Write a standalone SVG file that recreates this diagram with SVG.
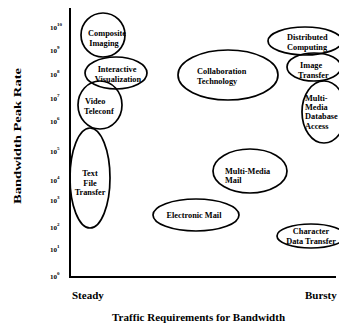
<svg xmlns="http://www.w3.org/2000/svg" width="339" height="326" viewBox="0 0 339 326">
<style>
.n{fill:none;stroke:#000;stroke-width:1.7}
.t{font-family:"Liberation Serif",serif;font-weight:bold;font-size:8.3px;fill:#000}
.m{text-anchor:middle}
.tick{font-family:"Liberation Serif",serif;font-weight:bold;font-size:7px;fill:#000}
.sup{font-size:5px}
.ax{font-family:"Liberation Serif",serif;font-weight:bold;font-size:11px;fill:#000}
</style>
<rect width="339" height="326" fill="#fff"/>
<g id="axes">
<line x1="70" y1="8" x2="70" y2="277" stroke="#000" stroke-width="2"/>
<line x1="69" y1="277" x2="336" y2="277" stroke="#000" stroke-width="2"/>
<g class="tick">
<text x="50" y="30">10<tspan class="sup" dy="-4">10</tspan></text>
<text x="50" y="53">10<tspan class="sup" dy="-4">9</tspan></text>
<text x="50" y="77">10<tspan class="sup" dy="-4">8</tspan></text>
<text x="50" y="101">10<tspan class="sup" dy="-4">7</tspan></text>
<text x="50" y="124">10<tspan class="sup" dy="-4">6</tspan></text>
<text x="50" y="154">10<tspan class="sup" dy="-4">5</tspan></text>
<text x="50" y="183">10<tspan class="sup" dy="-4">4</tspan></text>
<text x="50" y="203">10<tspan class="sup" dy="-4">3</tspan></text>
<text x="50" y="230">10<tspan class="sup" dy="-4">2</tspan></text>
<text x="50" y="252">10<tspan class="sup" dy="-4">1</tspan></text>
<text x="50" y="279">10<tspan class="sup" dy="-4">0</tspan></text>
</g>
<text class="ax" transform="translate(21,136) rotate(-90)" text-anchor="middle" font-size="16" textLength="136" lengthAdjust="spacingAndGlyphs">Bandwidth Peak Rate</text>
<text class="ax" x="72" y="299" font-size="10.5">Steady</text>
<text class="ax" x="305" y="299" font-size="10.5">Bursty</text>
<text class="ax" x="198.5" y="321" text-anchor="middle" textLength="173">Traffic Requirements for Bandwidth</text>
</g>
<g id="composite-imaging">
<ellipse class="n" cx="103" cy="35" rx="22" ry="22"/>
<text class="t m" x="107" y="36">Composite</text>
<text class="t m" x="104" y="46">Imaging</text>
</g>
<g id="interactive-visualization">
<ellipse class="n" cx="116" cy="73" rx="31" ry="16"/>
<text class="t m" x="117" y="72">Interactive</text>
<text class="t m" x="118" y="82">Visualization</text>
</g>
<g id="video-teleconf">
<ellipse class="n" cx="100" cy="105" rx="22" ry="24"/>
<text class="t" x="85" y="104">Video</text>
<text class="t" x="84" y="114">Teleconf</text>
</g>
<g id="text-file-transfer">
<ellipse class="n" cx="90" cy="178" rx="20" ry="50"/>
<text class="t m" x="90" y="176">Text</text>
<text class="t m" x="90" y="186">File</text>
<text class="t m" x="90" y="195">Transfer</text>
</g>
<g id="collaboration-technology">
<ellipse class="n" cx="228" cy="75" rx="50" ry="25"/>
<text class="t" x="197" y="74">Collaboration</text>
<text class="t" x="197" y="84">Technology</text>
</g>
<g id="distributed-computing">
<ellipse class="n" cx="305" cy="41" rx="37" ry="14"/>
<text class="t" x="287" y="40">Distributed</text>
<text class="t" x="287" y="50">Computing</text>
</g>
<g id="image-transfer">
<ellipse class="n" cx="314" cy="67" rx="27" ry="14"/>
<text class="t" x="300" y="68">Image</text>
<text class="t" x="298" y="78">Transfer</text>
</g>
<g id="multimedia-database-access">
<ellipse class="n" cx="324" cy="112" rx="22" ry="31"/>
<text class="t" x="305" y="101">Multi-</text>
<text class="t" x="305" y="110">Media</text>
<text class="t" x="305" y="119">Database</text>
<text class="t" x="305" y="129">Access</text>
</g>
<g id="multimedia-mail">
<ellipse class="n" cx="250" cy="171" rx="37" ry="22"/>
<text class="t" x="225" y="174">Multi-Media</text>
<text class="t" x="225" y="183">Mail</text>
</g>
<g id="electronic-mail">
<ellipse class="n" cx="196" cy="215" rx="43" ry="16"/>
<text class="t m" x="194" y="218">Electronic Mail</text>
</g>
<g id="character-data-transfer">
<ellipse class="n" cx="311" cy="236" rx="34" ry="12"/>
<text class="t m" x="311" y="234">Character</text>
<text class="t m" x="311" y="244">Data Transfer</text>
</g>
<g id="connectors"></g>
</svg>
